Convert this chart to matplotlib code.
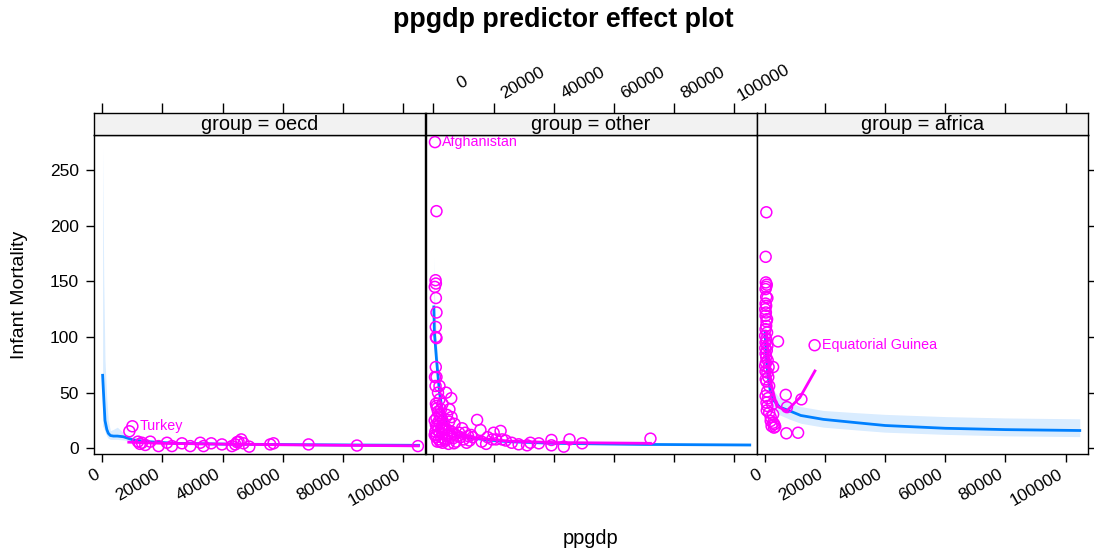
import numpy as np
import matplotlib
matplotlib.use("Agg")
import matplotlib.pyplot as plt
import matplotlib.transforms as mtransforms

plt.rcParams['font.family'] = ['Liberation Sans', 'DejaVu Sans']

# ---- data ----
groups = ['oecd', 'other', 'africa']
xticks = [0, 20000, 40000, 60000, 80000, 100000]
yticks = [0, 50, 100, 150, 200, 250]

# partial residuals (magenta circles)
oecd_x = [9000, 10000, 11860, 13190, 14290, 15950, 18700, 21490, 23150, 26480, 29240,
          32560, 33650, 36210, 39770, 43090, 44190, 45280, 46180, 46940, 48840, 55810,
          56910, 68540, 84620, 104880, 12500, 44800]
oecd_y = [15.3, 19.8, 6, 5, 3, 6, 2, 5, 2, 4.5, 2, 5, 2, 4.5, 3.5, 2, 3.5, 6, 8, 4.5,
          1.5, 3.5, 4.5, 3.5, 2.5, 2, 4, 5.5]

other_x = [500, 1000, 700, 800, 440, 800, 1000, 770, 800, 1000, 770, 1000, 500, 2000, 700,
           1500, 4200, 5900, 5300, 800, 1000, 1200, 1500, 2000, 2500, 1000, 3000, 1700,
           2200, 800, 1200, 3500, 4000, 2800, 1500, 5000, 6000, 2000, 3000, 7000, 1000,
           4500, 8000, 2500, 5500, 9000, 3500, 6500, 1800, 10000, 4000, 12000, 2200, 7500,
           3000, 11000, 5000, 14500, 15600, 20000, 22300, 19500, 20800, 22800, 12500,
           10500, 13000, 16000, 17500, 28300, 31100, 32200, 35000, 39200, 39200, 43300,
           45200, 49400, 72100, 26000, 24000, 18000, 9500, 7000, 6000, 3000, 2000, 400,
           400, 600, 900, 2500, 4500, 8500, 11500, 3800, 6800, 1300, 2700, 5200]
other_y = [275, 213, 151, 148, 145, 135, 122, 109, 100, 99, 73, 64, 64, 56, 56,
           50, 50, 45, 35, 40, 38, 36, 33, 30, 28, 27, 25, 24,
           22, 21, 20, 19, 18, 17, 16, 16, 15, 14, 13, 13, 12,
           12, 11, 10, 10, 10, 9, 9, 8, 8, 7, 7, 6, 6,
           5, 5, 4, 25.5, 16.5, 14, 15.6, 8, 8, 8, 12,
           14, 10, 6, 4, 3.6, 2.7, 5, 4.5, 7.5, 2.7, 1.5,
           8, 4.5, 8.7, 5, 7, 10, 18, 22, 28, 40, 44, 25,
           12, 15, 10, 35, 30, 14, 11, 8, 4.5, 6, 20, 24]

africa_x = [550, 330, 400, 500, 300, 700, 500, 900, 300, 500, 200, 300, 800, 500, 300,
            800, 150, 500, 300, 900, 4430, 300, 500, 150, 1300, 2800, 300, 900, 600,
            1500, 350, 600, 900, 2500, 7000, 12200, 7400, 1500, 2800, 2000, 2800, 3200,
            2300, 3100, 7200, 11100, 16600, 400, 600, 200, 700, 1000, 400, 1200, 800,
            300, 1100, 700, 2000, 3500]
africa_y = [212, 172, 149, 145, 143, 147, 136, 135, 130, 128, 125, 119, 116, 110, 107,
            104, 101, 98, 95, 92, 96, 85, 82, 74, 73, 73, 69, 68, 60,
            56, 62, 41, 38, 39.5, 48, 44, 37, 32, 30.5, 24.6, 23, 21.6,
            20, 18.6, 13.5, 14, 92.6, 122, 114, 90, 88, 79, 77, 64, 51,
            47, 45, 34, 28, 19.5]

labels = {'oecd': ('Turkey', 10000, 19.8),
          'other': ('Afghanistan', 500, 275),
          'africa': ('Equatorial Guinea', 16600, 92.6)}

# fitted effect (blue line) and confidence band
oecd_fx = [115, 500, 900, 1500, 2000, 2700, 3700, 5000, 7000, 10300, 15000, 24000, 40000, 70000, 105095]
oecd_fy = [65.6, 45, 25, 17, 13.5, 11.5, 11, 11, 10.4, 7.5, 6, 4.5, 3.8, 3.2, 2.7]
oecd_lo = [20, 18, 15, 11, 9, 8, 8, 8, 7.5, 6, 4.8, 3.5, 2.8, 2.2, 1.5]
oecd_hi = [271, 150, 80, 45, 25, 16, 17, 19, 14, 9.5, 7.5, 5.5, 4.8, 4.2, 4]

other_fx = [115, 300, 1000, 1500, 2000, 3000, 4000, 5000, 6750, 8000, 10000, 17800, 25000, 40000, 70000, 105095]
other_fy = [127, 104, 80, 65, 50, 33, 24, 19, 13.5, 12, 10.5, 7.5, 6, 4.5, 3.5, 3]
other_lo = [95, 85, 68, 54, 43, 28, 20, 16.5, 11.5, 10, 9, 6, 4.8, 3.6, 2.6, 2.1]
other_hi = [172, 140, 98, 78, 58, 38, 28, 22, 15.5, 14, 12, 9, 7.2, 5.5, 4.5, 4]

africa_fx = [115, 500, 1000, 1770, 3000, 5000, 8400, 12000, 19500, 30600, 40000, 60000, 80000, 104700]
africa_fy = [105, 85, 68, 53, 43, 37, 33.5, 29.5, 26, 23, 20.5, 18, 16.8, 16]
africa_lo = [88, 70, 57, 43, 35, 30, 26, 22.5, 19, 16.5, 14.5, 12.5, 11.2, 10.5]
africa_hi = [125, 100, 80, 62, 52, 45, 41, 37.5, 34, 32, 30.5, 28.5, 27.3, 26.5]

# residual smoother (magenta line)
oecd_sx = [8800, 20000, 40000, 60000, 80000, 105000]
oecd_sy = [5.5, 4.5, 3.8, 3.2, 2.7, 2.2]
other_sx = [3000, 5000, 8300, 15000, 25000, 40000, 72100]
other_sy = [28, 18, 12, 9, 6.5, 5.2, 4.5]
africa_sx = [660, 1770, 3990, 7300, 11700, 16700]
africa_sy = [104, 62, 38, 33.5, 45.6, 69.5]

pts = {'oecd': (oecd_x, oecd_y), 'other': (other_x, other_y), 'africa': (africa_x, africa_y)}
fits = {'oecd': (oecd_fx, oecd_fy, oecd_lo, oecd_hi),
        'other': (other_fx, other_fy, other_lo, other_hi),
        'africa': (africa_fx, africa_fy, africa_lo, africa_hi)}
smooths = {'oecd': (oecd_sx, oecd_sy), 'other': (other_sx, other_sy), 'africa': (africa_sx, africa_sy)}

W, H = 1094, 550
fig = plt.figure(figsize=(W / 100, H / 100), dpi=100)

left0, pw = 94.3, 331.2
ptop, pbot, stop = 135, 454, 112.7
xlim = (-2650, 107400)
ylim = (-5.1, 281.4)
blue, mag = '#0080ff', '#ff00ff'

for i, g in enumerate(groups):
    l = (left0 + i * pw) / W
    ax = fig.add_axes([l, (H - pbot) / H, pw / W, (pbot - ptop) / H])
    sx = fig.add_axes([l, (H - ptop) / H, pw / W, (ptop - stop) / H])

    fx, fy, lo, hi = fits[g]
    ax.fill_between(fx, lo, hi, color=blue, alpha=0.15, lw=0)
    ax.plot(fx, fy, color=blue, lw=2)
    px, py = pts[g]
    ax.scatter(px, py, s=62, facecolors='none', edgecolors=mag, linewidths=1.1, zorder=3)
    ax.plot(*smooths[g], color=mag, lw=2, zorder=4)
    name, lx, ly = labels[g]
    ax.annotate(name, (lx, ly), xytext=(5, 0), textcoords='offset points',
                color=mag, fontsize=10.3, va='center', ha='left')

    ax.set_xlim(xlim)
    ax.set_ylim(ylim)
    ax.set_xticks(xticks)
    ax.set_yticks(yticks)
    ax.tick_params(direction='out', length=6, width=1, labelsize=12.5, pad=3)
    ax.tick_params(axis='y', left=(i == 0), right=(i == 2), labelleft=(i == 0), pad=5)
    if i == 1:
        ax.tick_params(axis='x', labelbottom=False)
    else:
        ax.set_xticklabels([str(t) for t in xticks], rotation=30, ha='right', va='top')
    for s in ax.spines.values():
        s.set_linewidth(1)

    # strip
    sx.set_facecolor('#f2f2f2')
    sx.set_xlim(xlim)
    sx.set_yticks([])
    sx.set_xticks(xticks)
    sx.tick_params(axis='x', direction='out', length=7, width=1, bottom=False,
                   labelbottom=False, top=True, labeltop=False)
    for s in sx.spines.values():
        s.set_linewidth(1)
    sx.text(0.5, 0.45, 'group = ' + g, transform=sx.transAxes, ha='center', va='center', fontsize=14.4)

    if i == 1:
        base = mtransforms.blended_transform_factory(sx.transData, sx.transAxes)
        tr = mtransforms.offset_copy(base, fig=fig, x=29, y=29.7, units='dots')
        for t in xticks:
            sx.text(t, 1, str(t), transform=tr, rotation=30, ha='center', va='center',
                    fontsize=12.5, clip_on=False)

fig.text(20 / W, 1 - ((ptop + pbot) / 2) / H, 'Infant Mortality', rotation=90,
         ha='center', va='center', fontsize=14)
fig.text(591 / W, 1 - 538 / H, 'ppgdp', ha='center', va='center', fontsize=14.4)
fig.text(563 / W, 1 - 20 / H, 'ppgdp predictor effect plot', ha='center', va='center',
         fontsize=19.3, fontweight='bold')

fig.savefig('out.png', dpi=100)
